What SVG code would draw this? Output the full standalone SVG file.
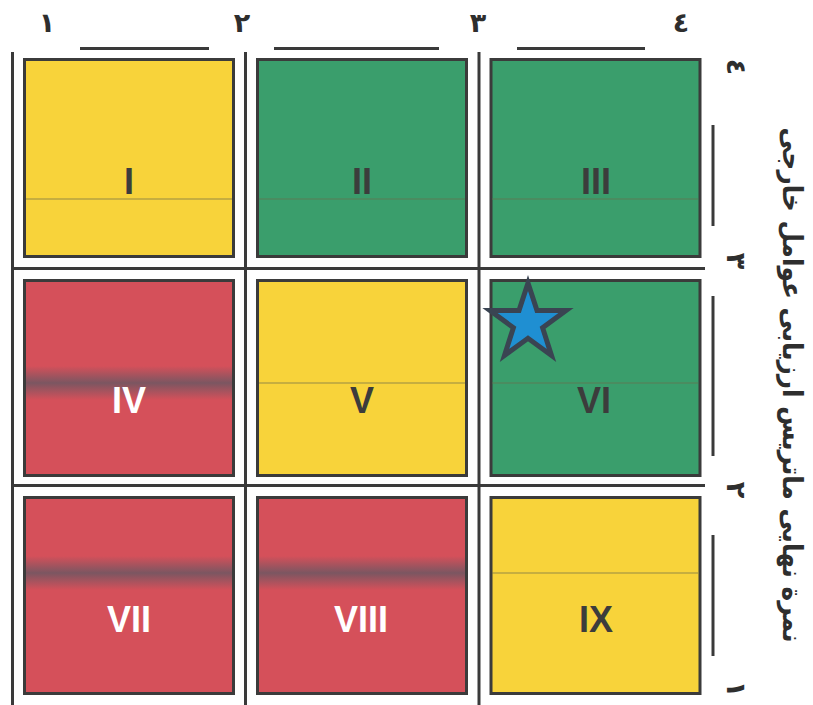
<svg xmlns="http://www.w3.org/2000/svg" width="813" height="705" viewBox="0 0 813 705">
  <style>
    .grid { stroke: #3a3a3a; stroke-width: 3; fill: none; stroke-linecap: butt; }
    .cell { stroke: #3b3b3b; stroke-width: 3; }
    .y { fill: #f8d33a; }
    .g { fill: #3a9e6c; }
    .r { fill: #d5505a; }
    .num { font-family: "Liberation Sans", Arial, sans-serif; font-weight: bold; font-size: 36px; text-anchor: middle; }
    .dk { fill: #3c3c3c; }
    .wt { fill: #ffffff; }
    .ax { font-family: "DejaVu Sans", sans-serif; font-weight: bold; font-size: 27px; fill: #2e2e2e; text-anchor: middle; }
    .fold { stroke: #6a6a4a; stroke-opacity: 0.35; stroke-width: 2; }
  </style>
  <defs>
    <linearGradient id="band" x1="0" y1="0" x2="0" y2="1">
      <stop offset="0" stop-color="#3f5a66" stop-opacity="0"/>
      <stop offset="0.5" stop-color="#3f5a66" stop-opacity="0.6"/>
      <stop offset="1" stop-color="#3f5a66" stop-opacity="0"/>
    </linearGradient>
  </defs>
  <rect width="813" height="705" fill="#ffffff"/>

  <g id="connectors">
    <line class="grid" x1="12.5" y1="52" x2="12.5" y2="705"/>
    <line class="grid" x1="245.5" y1="52" x2="245.5" y2="705"/>
    <line class="grid" x1="479" y1="52" x2="479" y2="705"/>
    <line class="grid" x1="12" y1="268.5" x2="705" y2="268.5"/>
    <line class="grid" x1="12" y1="485.5" x2="705" y2="485.5"/>
    <line class="grid" x1="80" y1="48.5" x2="209" y2="48.5"/>
    <line class="grid" x1="274" y1="48.5" x2="439" y2="48.5"/>
    <line class="grid" x1="517" y1="48.5" x2="645" y2="48.5"/>
    <line class="grid" x1="713" y1="125" x2="713" y2="226"/>
    <line class="grid" x1="713" y1="296" x2="713" y2="456"/>
    <line class="grid" x1="713" y1="535" x2="713" y2="656"/>
  </g>

  <g id="axis-top">
    <text class="ax" x="47" y="32">١</text>
    <text class="ax" x="242" y="32">٢</text>
    <text class="ax" x="478" y="32">٣</text>
    <text class="ax" x="681" y="32">٤</text>
  </g>
  <g id="axis-right">
    <text class="ax" transform="translate(736,67) rotate(90)" dominant-baseline="central">٤</text>
    <text class="ax" transform="translate(736,261) rotate(90)" dominant-baseline="central">٣</text>
    <text class="ax" transform="translate(736,490) rotate(90)" dominant-baseline="central">٢</text>
    <text class="ax" transform="translate(736,689) rotate(90)" dominant-baseline="central">١</text>
    <text class="ax" transform="translate(792,385) rotate(90)" dominant-baseline="central" font-size="28" textLength="515" lengthAdjust="spacingAndGlyphs" direction="rtl">نمرة نهایی ماتریس ارزیابی عوامل خارجی</text>
  </g>

  <g id="cell-I">
    <rect class="cell y" x="24.5" y="59.5" width="209" height="197"/>
    <line class="fold" x1="26" y1="199" x2="232" y2="199"/>
    <text class="num dk" x="129" y="194">I</text>
  </g>
  <g id="cell-II">
    <rect class="cell g" x="257.5" y="59.5" width="209" height="197"/>
    <line class="fold" x1="259" y1="199" x2="465" y2="199" stroke="#2a4a4a"/>
    <text class="num dk" x="362" y="194">II</text>
  </g>
  <g id="cell-III">
    <rect class="cell g" x="491" y="59.5" width="209" height="197"/>
    <line class="fold" x1="492" y1="199" x2="698" y2="199" stroke="#2a4a4a"/>
    <text class="num dk" x="596" y="194">III</text>
  </g>
  <g id="cell-IV">
    <rect class="cell r" x="24.5" y="280.5" width="209" height="195"/>
    <rect x="26" y="366" width="206" height="34" fill="url(#band)"/>
    <text class="num wt" x="129" y="413">IV</text>
  </g>
  <g id="cell-V">
    <rect class="cell y" x="257.5" y="280.5" width="209" height="195"/>
    <line class="fold" x1="259" y1="383" x2="465" y2="383"/>
    <text class="num dk" x="362" y="413">V</text>
  </g>
  <g id="cell-VI">
    <rect class="cell g" x="491" y="280.5" width="209" height="195"/>
    <line class="fold" x1="492" y1="383" x2="698" y2="383" stroke="#2a4a4a"/>
    <text class="num dk" x="594" y="413">VI</text>
    <polygon points="528,283 537,310.6 566,310.6 542.6,327.7 551.5,355.4 528,338.3 504.5,355.4 513.4,327.7 490,310.6 519,310.6" fill="#1f8fd2" stroke="#3a4452" stroke-width="5" stroke-linejoin="miter"/>
  </g>
  <g id="cell-VII">
    <rect class="cell r" x="24.5" y="497.5" width="209" height="196"/>
    <rect x="26" y="556" width="206" height="34" fill="url(#band)"/>
    <text class="num wt" x="129" y="632">VII</text>
  </g>
  <g id="cell-VIII">
    <rect class="cell r" x="257.5" y="497.5" width="209" height="196"/>
    <rect x="259" y="556" width="206" height="34" fill="url(#band)"/>
    <text class="num wt" x="361" y="632">VIII</text>
  </g>
  <g id="cell-IX">
    <rect class="cell y" x="491" y="497.5" width="209" height="196"/>
    <line class="fold" x1="492" y1="573" x2="698" y2="573" stroke-opacity="0.15"/>
    <text class="num dk" x="596" y="632">IX</text>
  </g>
</svg>
